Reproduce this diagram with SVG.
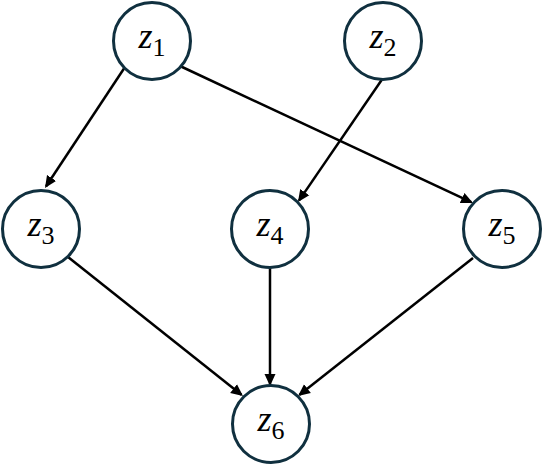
<svg xmlns="http://www.w3.org/2000/svg" width="542" height="465" viewBox="0 0 542 465">
<style>
.node circle { fill: #ffffff; stroke: #10303f; stroke-width: 3; }
.node text { font-family: "Liberation Serif", "DejaVu Serif", serif; font-style: italic; font-size: 36px; fill: #000000; }
.node text .sub { font-style: normal; font-size: 26px; }
.edge { stroke: #000000; stroke-width: 2.5; fill: none; marker-end: url(#arrow); }
</style>
<defs>
<marker id="arrow" markerUnits="userSpaceOnUse" markerWidth="14" markerHeight="12" refX="10" refY="6" orient="auto">
<path d="M0,0.5 L12,6 L0,11.5 z" fill="#000000"/>
</marker>
</defs>
<rect width="542" height="465" fill="#ffffff"/>
<g id="connectors">
<line class="edge" x1="125" y1="67" x2="46.1" y2="186.3"/>
<line class="edge" x1="180" y1="66" x2="471.2" y2="202.2"/>
<line class="edge" x1="383" y1="78" x2="299.1" y2="200.4"/>
<line class="edge" x1="68" y1="257" x2="241.4" y2="394.8"/>
<line class="edge" x1="270" y1="268" x2="270" y2="384"/>
<line class="edge" x1="473" y1="258" x2="299.6" y2="394.8"/>
</g>
<g id="z1" class="node"><circle cx="152" cy="41" r="38.5"/><text x="152" y="48" text-anchor="middle">z<tspan class="sub" dy="8">1</tspan></text></g>
<g id="z2" class="node"><circle cx="383" cy="41" r="38.5"/><text x="383" y="48" text-anchor="middle">z<tspan class="sub" dy="8">2</tspan></text></g>
<g id="z3" class="node"><circle cx="41" cy="229" r="38.5"/><text x="41" y="236" text-anchor="middle">z<tspan class="sub" dy="8">3</tspan></text></g>
<g id="z4" class="node"><circle cx="270" cy="229" r="38.5"/><text x="270" y="236" text-anchor="middle">z<tspan class="sub" dy="8">4</tspan></text></g>
<g id="z5" class="node"><circle cx="502" cy="229" r="38.5"/><text x="502" y="236" text-anchor="middle">z<tspan class="sub" dy="8">5</tspan></text></g>
<g id="z6" class="node"><circle cx="271" cy="424" r="38.5"/><text x="271" y="431" text-anchor="middle">z<tspan class="sub" dy="8">6</tspan></text></g>
</svg>
